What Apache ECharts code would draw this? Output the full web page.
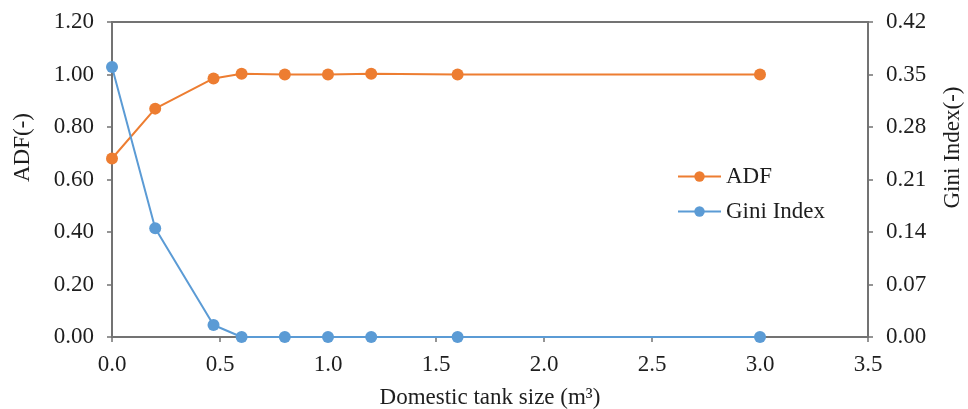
<!DOCTYPE html>
<html><head><meta charset="utf-8">
<script src="https://cdn.jsdelivr.net/npm/echarts@6/dist/echarts.min.js"></script>
<style>html,body{margin:0;padding:0;background:#fff}#c{width:968px;height:409px}</style>
</head><body><div id="c"></div>
<script>
const tankSize = [0, 0.2, 0.47, 0.6, 0.8, 1.0, 1.2, 1.6, 3.0];
const adf = [0.68, 0.87, 0.985, 1.003, 1.0, 1.0, 1.003, 1.0, 1.0];
const gini = [0.36, 0.145, 0.016, 0, 0, 0, 0, 0, 0];
const leftTicks = [0, 0.2, 0.4, 0.6, 0.8, 1.0, 1.2];
const rightTicks = [0, 0.07, 0.14, 0.21, 0.28, 0.35, 0.42];

const font = 'Liberation Serif, Times New Roman, serif';
const axisColor = '#737373';
const textColor = '#1e1e1e';
const chart = echarts.init(document.getElementById('c'));
const axisCommon = {
  axisLine: {show: true, lineStyle: {color: axisColor, width: 2}},
  axisTick: {show: true, inside: false, length: 5, lineStyle: {color: axisColor, width: 1.5}},
  splitLine: {show: false},
  axisLabel: {color: textColor, fontFamily: font, fontSize: 23},
  nameTextStyle: {color: textColor, fontFamily: font, fontSize: 23}
};
chart.setOption({
  animation: false,
  backgroundColor: '#fff',
  grid: {left: 112, right: 100, top: 22, bottom: 72, show: true, borderColor: axisColor, borderWidth: 2,
         outerBoundsMode: 'none', containLabel: false},
  legend: {
    orient: 'vertical', left: 677, top: 165, padding: 0, itemGap: 12, itemWidth: 43, itemHeight: 13,
    lineStyle: {width: 2},
    textStyle: {fontFamily: font, fontSize: 23, color: textColor},
    data: ['ADF', 'Gini Index']
  },
  xAxis: Object.assign({}, axisCommon, {
    type: 'value', min: 0, max: 3.5, interval: 0.5,
    name: 'Domestic tank size (m³)', nameLocation: 'middle', nameGap: 49,
    axisLabel: Object.assign({}, axisCommon.axisLabel, {margin: 16, formatter: v => v.toFixed(1)})
  }),
  yAxis: [
    Object.assign({}, axisCommon, {
      type: 'value', min: 0, max: 1.2, interval: 0.2, position: 'left',
      name: 'ADF(-)', nameLocation: 'middle', nameGap: 78, nameRotate: 90,
      nameTextStyle: Object.assign({}, axisCommon.nameTextStyle, {padding: [0, 0, 0, 64]}),
      axisLabel: Object.assign({}, axisCommon.axisLabel, {margin: 18, formatter: v => v.toFixed(2)})
    }),
    Object.assign({}, axisCommon, {
      type: 'value', min: 0, max: 0.42, interval: 0.07, position: 'right',
      name: 'Gini Index(-)', nameLocation: 'middle', nameGap: 73, nameRotate: 90,
      nameTextStyle: Object.assign({}, axisCommon.nameTextStyle, {padding: [0, 0, 0, 64]}),
      axisLabel: Object.assign({}, axisCommon.axisLabel, {margin: 18, formatter: v => v.toFixed(2)})
    })
  ],
  series: [
    {name: 'ADF', type: 'line', yAxisIndex: 0, symbol: 'circle', symbolSize: 12,
     itemStyle: {color: '#ED7D31'}, lineStyle: {color: '#ED7D31', width: 2},
     data: tankSize.map((x, i) => [x, adf[i]])},
    {name: 'Gini Index', type: 'line', yAxisIndex: 1, symbol: 'circle', symbolSize: 12,
     itemStyle: {color: '#5B9BD5'}, lineStyle: {color: '#5B9BD5', width: 2},
     data: tankSize.map((x, i) => [x, gini[i]])}
  ]
});
</script></body></html>
